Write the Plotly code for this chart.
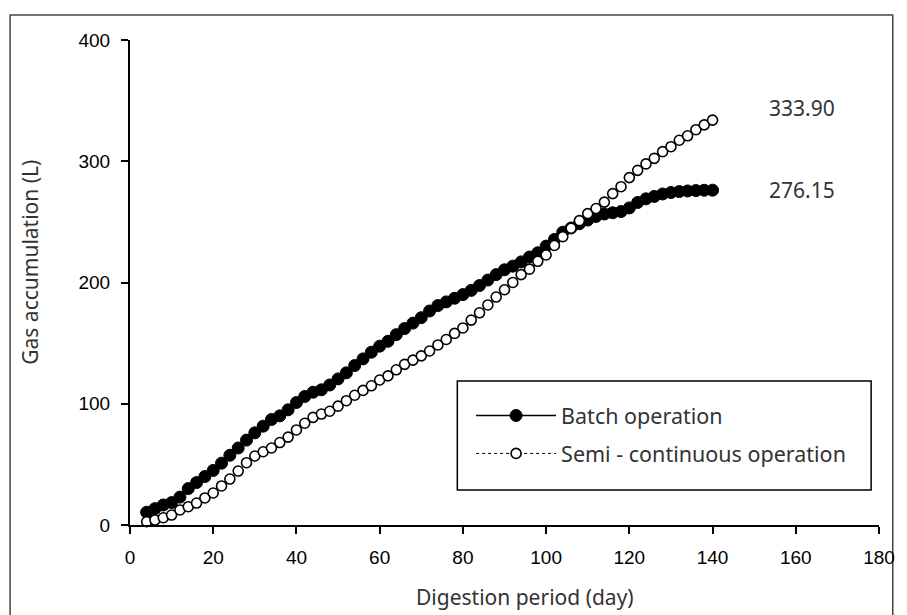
import plotly.graph_objects as go

days = list(range(4, 141, 2))

batch = [10.5, 13.5, 16.5, 18.5, 23, 30, 35, 40, 45, 51, 57.5, 63.5, 70, 76, 81.5, 87,
         90, 95, 101, 106, 109.5, 111.5, 115.5, 120.5, 125.5, 131.5, 137, 142.5, 147.5,
         151.5, 157, 162, 166.5, 171, 176.5, 181, 184, 187, 190, 193.5, 197.5, 202, 206.5,
         210.5, 213.5, 217, 221, 224.5, 230, 235.5, 241.5, 245, 248.5, 251.5, 254.5, 256.5,
         257.5, 258.5, 261.5, 266, 269, 271, 273, 274.2, 275, 275.5, 275.8, 276.1, 276.15]

semi = [2.7, 4.1, 6, 8.2, 12.4, 15.1, 18.1, 22.3, 26.4, 32.2, 37.9, 44.5, 51.4, 56.9, 60.4,
        63.5, 68, 72.5, 78.4, 83.9, 88.8, 91.5, 93.8, 98, 102.5, 107, 111, 114.8, 119.6, 123,
        128, 132.5, 136, 139.5, 143.5, 148.5, 153, 158, 162.5, 169, 175, 181.5, 188, 194, 200,
        206.5, 211, 217.5, 222.7, 230.5, 237.8, 244.7, 251, 256.8, 261, 266.3, 273.3, 279,
        286.5, 292.5, 297.8, 302.4, 307.9, 312, 317.3, 321, 326, 330, 333.9]

x_ticks = [0, 20, 40, 60, 80, 100, 120, 140, 160, 180]
y_ticks = [0, 100, 200, 300, 400]
final_labels = ["333.90", "276.15"]
final_label_y = [344, 276]

TXT = "#333333"
TFONT = "Noto Sans"

L, R, T, B = 130, 15, 40, 90
PW = 907 - L - R
PH = 615 - T - B


def px(xp):
    return (xp - L) / PW


def py(yp):
    return (615 - B - yp) / PH


fig = go.Figure()
fig.add_trace(go.Scatter(
    x=days, y=batch, mode="lines+markers", name="Batch operation",
    line=dict(color="black", width=1.5),
    marker=dict(symbol="circle", size=12, color="black", line=dict(color="black", width=1)),
    legendgroup="a", cliponaxis=False))
fig.add_trace(go.Scatter(
    x=days, y=semi, mode="lines+markers", name="Semi - continuous operation",
    line=dict(color="black", width=1, dash="dot"),
    marker=dict(symbol="circle", size=10, color="white", line=dict(color="black", width=1.6)),
    legendgroup="b", cliponaxis=False))

fig.update_layout(
    width=907, height=615,
    margin=dict(l=L, r=R, t=T, b=B, pad=0),
    paper_bgcolor="white", plot_bgcolor="white",
    showlegend=True,
    legend=dict(x=px(477), y=py(395), xanchor="left", yanchor="top",
                bgcolor="rgba(0,0,0,0)", borderwidth=0,
                font=dict(family=TFONT, size=21.5, color=TXT),
                itemwidth=80, tracegroupgap=7, traceorder="grouped"),
    xaxis=dict(range=[0, 180], tickvals=x_ticks, showgrid=False, zeroline=False,
               showline=True, linecolor="black", linewidth=2,
               ticks="outside", ticklen=7, tickwidth=1.5, tickcolor="black",
               ticklabelstandoff=7, ticklabeloverflow="allow",
               tickfont=dict(family="Liberation Sans", size=19, color="black")),
    yaxis=dict(range=[0, 400], tickvals=y_ticks, showgrid=False, zeroline=False,
               showline=True, linecolor="black", linewidth=2,
               ticks="outside", ticklen=7, tickwidth=1.5, tickcolor="black",
               ticklabelstandoff=7,
               tickfont=dict(family="Liberation Sans", size=19, color="black")),
)

# axis titles
fig.add_annotation(text="Digestion period (day)", xref="paper", yref="paper",
                   x=px(532), y=py(597), xanchor="center", yanchor="middle", showarrow=False,
                   font=dict(family=TFONT, size=21, color=TXT))
fig.add_annotation(text="Gas accumulation (L)", xref="paper", yref="paper",
                   x=px(28), y=py(262), xanchor="center", yanchor="middle", showarrow=False,
                   textangle=-90, font=dict(family=TFONT, size=21, color=TXT))

# final value labels
for lab, yy in zip(final_labels, final_label_y):
    fig.add_annotation(text=lab, xref="paper", yref="y", x=px(778), y=yy,
                       xanchor="left", yanchor="middle", showarrow=False,
                       font=dict(family=TFONT, size=21, color=TXT))

# legend box
fig.add_shape(type="rect", xref="paper", yref="paper", x0=px(463), x1=px(884), y0=py(490), y1=py(381),
              line=dict(color="black", width=1.5), fillcolor="rgba(0,0,0,0)", layer="above")
# outer frame
fig.add_shape(type="rect", xref="paper", yref="paper", x0=px(8), x1=px(906), y0=py(640), y1=py(15),
              line=dict(color="#444444", width=1.5), fillcolor="rgba(0,0,0,0)", layer="below")

fig.write_html("out.html")
